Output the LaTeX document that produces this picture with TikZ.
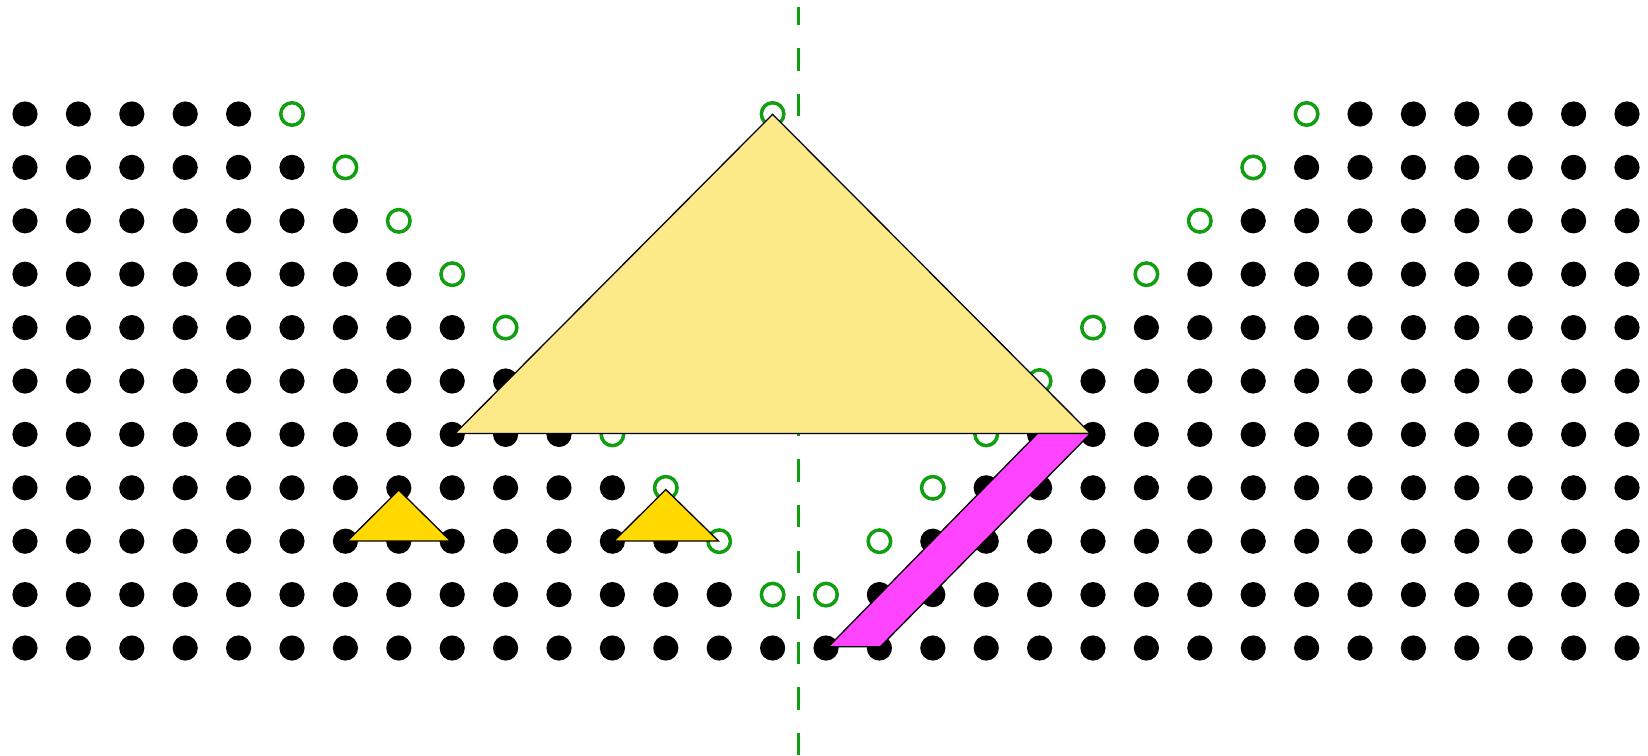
\documentclass[tikz,border=0pt]{standalone}
\definecolor{dgreen}{RGB}{17,158,17}
\definecolor{lyellow}{RGB}{252,233,135}
\definecolor{goldy}{RGB}{255,217,0}
\definecolor{magpink}{RGB}{255,68,255}
\tikzset{
  dot/.style={circle,fill=black,inner sep=0pt,minimum size=25.2pt},
  ring/.style={circle,draw=dgreen,line width=3.5pt,inner sep=0pt,minimum size=22.5pt},
  axisline/.style={draw=dgreen,line width=3.6pt,dash pattern=on 22.4pt off 23.25pt,dash phase=4.6pt},
  bigtri/.style={fill=lyellow,draw=black,line width=1.3pt},
  smalltri/.style={fill=goldy,draw=black,line width=1.3pt},
  bar/.style={fill=magpink,draw=black,line width=1.3pt}
}
\begin{document}
\begin{tikzpicture}[x=1pt,y=-1pt]
\useasboundingbox (0,0) rectangle (1648,755);
\fill[white] (0,0) rectangle (1648,755);
% symmetry axis
\coordinate (axtop) at (798.5,7.3);
\coordinate (axbot) at (798.5,755);
\draw[axisline] (axtop) -- (axbot);
% lattice
\foreach \r in {0,...,9} {
  \pgfmathtruncatemacro\a{4+\r}
  \pgfmathtruncatemacro\g{5+\r}
  \pgfmathtruncatemacro\h{24-\r}
  \pgfmathtruncatemacro\b{25-\r}
  \foreach \c in {0,...,\a} \node[dot] (b-\r-\c) at ({25+53.4*\c},{114+53.4*\r}) {};
  \node[ring] (g-\r-\g) at ({25+53.4*\g},{114+53.4*\r}) {};
  \node[ring] (g-\r-\h) at ({25+53.4*\h},{114+53.4*\r}) {};
  \foreach \c in {\b,...,30} \node[dot] (b-\r-\c) at ({25+53.4*\c},{114+53.4*\r}) {};
}
\foreach \c in {0,...,30} \node[dot] (b-10-\c) at ({25+53.4*\c},{114+53.4*10}) {};
\node[ring] (g-0-14) at ({25+53.4*14},114) {};
% big triangle
\draw[bigtri] (772.6,114.3) -- (455,433.5) -- (1090.5,433.5) -- cycle;
% small triangles
\draw[smalltri] (398.8,490) -- (347.5,541) -- (450.5,541) -- cycle;
\draw[smalltri] (665.8,489.5) -- (614,541) -- (718.5,541) -- cycle;
% magenta bar
\draw[bar] (828.5,646.7) -- (880.3,646.7) -- (1090.5,433.5) -- (1037.5,433.5) -- cycle;
\end{tikzpicture}
\end{document}
